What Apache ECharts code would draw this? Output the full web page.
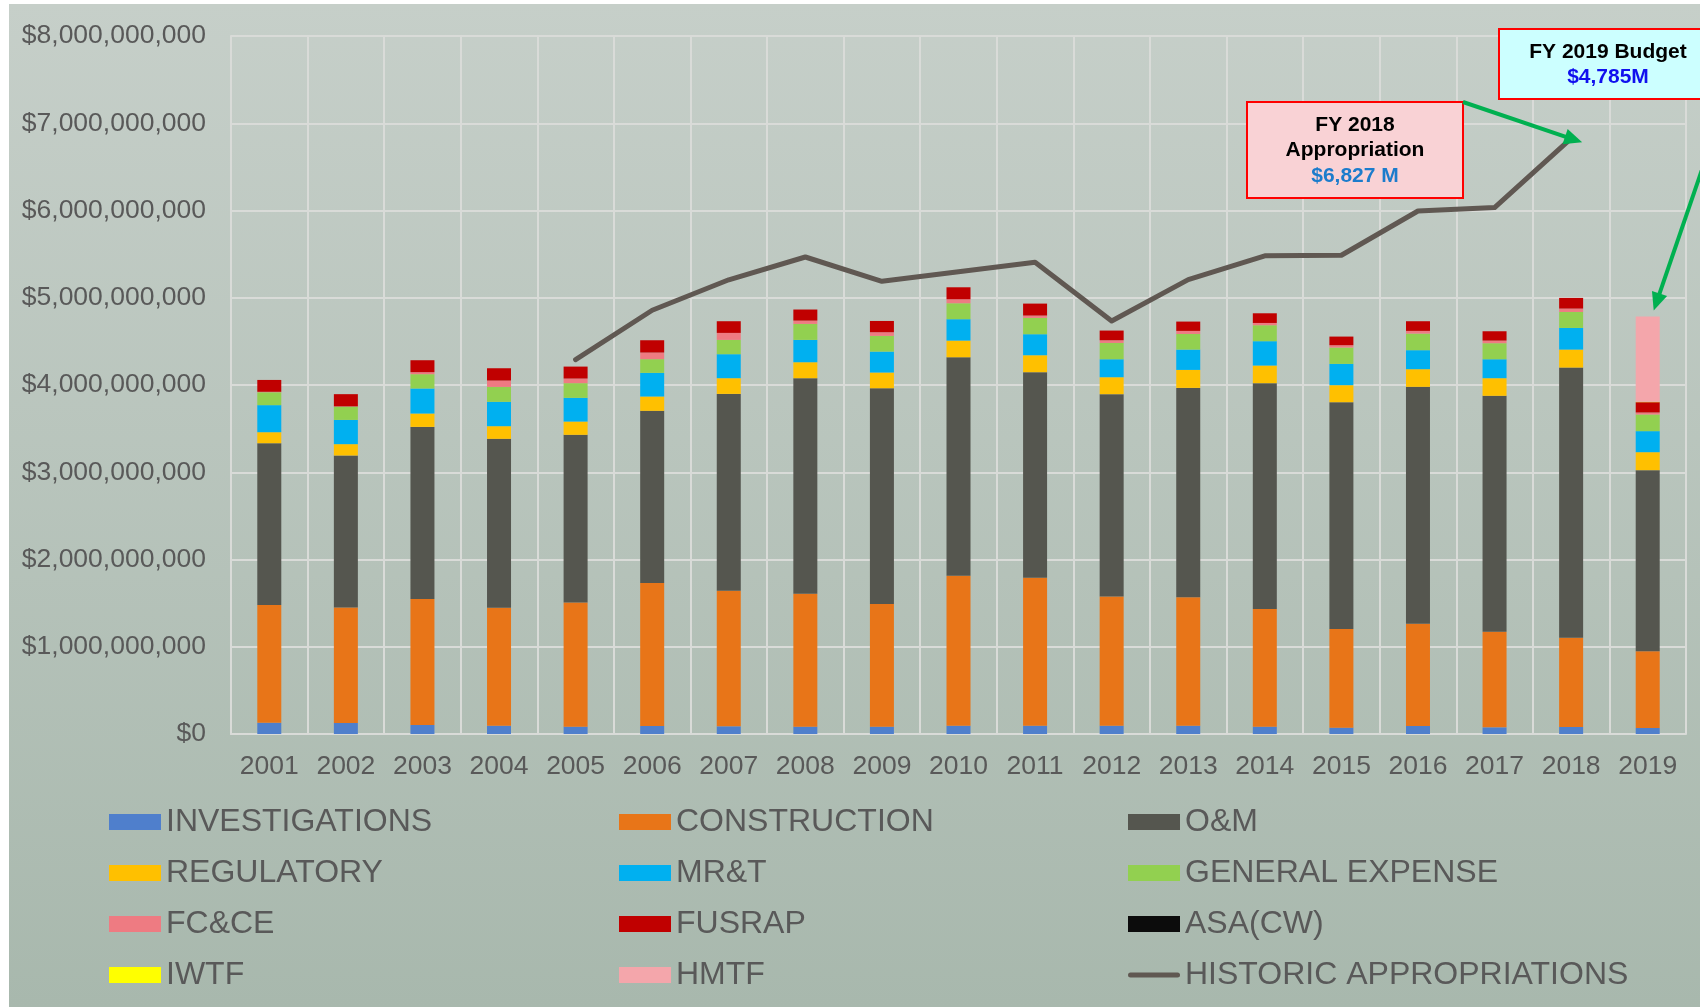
<!DOCTYPE html>
<html>
<head>
<meta charset="utf-8">
<script src="https://cdn.jsdelivr.net/npm/echarts@6/dist/echarts.min.js"></script>
<style>
  html, body { margin: 0; padding: 0; background: #fff; }
  #chart { width: 1700px; height: 1007px; }
</style>
</head>
<body>
<div id="chart"></div>
<script>
// fiscal years
const years = ['2001', '2002', '2003', '2004', '2005', '2006', '2007', '2008', '2009', '2010',
  '2011', '2012', '2013', '2014', '2015', '2016', '2017', '2018', '2019'];

// account values, $ millions
const investigations = [129, 126, 103, 95, 84, 92, 88, 84, 84, 95, 95, 95, 95, 84, 73, 92, 76, 80, 69];
const construction = [1349, 1325, 1443, 1352, 1424, 1638, 1554, 1523, 1405, 1718, 1695, 1482, 1471, 1348, 1130, 1172, 1096, 1023, 878];
const om = [1855, 1741, 1974, 1936, 1921, 1974, 2256, 2471, 2474, 2505, 2357, 2318, 2401, 2589, 2600, 2715, 2704, 3097, 2077];
const regulatory = [126, 130, 153, 145, 152, 164, 180, 183, 180, 191, 194, 194, 206, 202, 195, 202, 202, 206, 206];
const mrt = [310, 278, 287, 279, 272, 271, 275, 256, 240, 245, 241, 206, 233, 279, 244, 218, 217, 248, 241];
const generalExpense = [148, 152, 164, 171, 168, 157, 164, 183, 180, 183, 187, 187, 179, 183, 187, 190, 184, 183, 191];
const fcce = [5, 3, 23, 73, 53, 76, 80, 38, 42, 46, 27, 31, 35, 26, 27, 31, 30, 39, 23];
const fusrap = [136, 140, 137, 141, 137, 141, 134, 127, 129, 137, 137, 111, 107, 111, 99, 111, 107, 122, 118];
const asaCw = [0, 0, 0, 0, 0, 0, 0, 0, 0, 0, 0, 0, 0, 0, 0, 0, 0, 0, 0];
const iwtf = [0, 0, 0, 0, 0, 0, 0, 0, 0, 0, 0, 0, 0, 0, 0, 0, 0, 0, 5];
const hmtf = [0, 0, 0, 0, 0, 0, 0, 0, 0, 0, 0, 0, 0, 0, 0, 0, 0, 0, 977];
const historic = [null, null, null, null, 4291, 4857, 5206, 5467, 5189, 5298, 5407, 4734, 5208, 5480, 5487, 5994, 6033, 6827, null];

const yTicks = { min: 0, max: 8000, interval: 1000 };

const FONT = '"Liberation Sans", Arial, sans-serif';
const TEXT_GREY = '#595959';
const GRID_LINE = '#d9dbd8';
const LINE_COLOR = '#605852';

const stacks = [
  { name: 'INVESTIGATIONS', data: investigations, color: '#4f7fcc' },
  { name: 'CONSTRUCTION', data: construction, color: '#e87518' },
  { name: 'O&M', data: om, color: '#55564f' },
  { name: 'REGULATORY', data: regulatory, color: '#ffc000' },
  { name: 'MR&T', data: mrt, color: '#00b0f0' },
  { name: 'GENERAL EXPENSE', data: generalExpense, color: '#92d050' },
  { name: 'FC&CE', data: fcce, color: '#ee7b82' },
  { name: 'FUSRAP', data: fusrap, color: '#c00000' },
  { name: 'ASA(CW)', data: asaCw, color: '#0c0c0c' },
  { name: 'IWTF', data: iwtf, color: '#ffff00' },
  { name: 'HMTF', data: hmtf, color: '#f4a6ab' },
];

const chart = echarts.init(document.getElementById('chart'), null, { renderer: 'canvas' });

const legendBase = {
  orient: 'vertical',
  top: 800,
  itemWidth: 52,
  itemHeight: 16,
  itemGap: 17,
  symbolKeepAspect: true,
  textStyle: { fontSize: 32, lineHeight: 34, color: TEXT_GREY, fontFamily: FONT },
};
const box = (name) => ({ name: name, icon: 'rect' });
// thin rounded bar for the line series key
const lineIcon = 'path://M2.5,0 L49.5,0 A2.5,2.5 0 0 1 49.5,5 L2.5,5 A2.5,2.5 0 0 1 2.5,0 Z';

const option = {
  animation: false,
  backgroundColor: '#ffffff',
  textStyle: { fontFamily: FONT },
  grid: { left: 231, right: 14, top: 36, bottom: 273, containLabel: false },
  legend: [
    Object.assign({}, legendBase, { left: 104, data: ['INVESTIGATIONS', 'REGULATORY', 'FC&CE', 'IWTF'].map(box) }),
    Object.assign({}, legendBase, { left: 614, data: ['CONSTRUCTION', 'MR&T', 'FUSRAP', 'HMTF'].map(box) }),
    Object.assign({}, legendBase, {
      left: 1123,
      data: ['O&M', 'GENERAL EXPENSE', 'ASA(CW)'].map(box).concat([
        { name: 'HISTORIC APPROPRIATIONS', icon: lineIcon, itemStyle: { color: LINE_COLOR, borderWidth: 0 } },
      ]),
    }),
  ],
  xAxis: {
    type: 'category',
    data: years,
    boundaryGap: true,
    axisTick: { show: false, interval: 0 },
    axisLine: { lineStyle: { color: GRID_LINE, width: 2 } },
    axisLabel: { interval: 0, color: TEXT_GREY, fontSize: 26.5, fontFamily: FONT, margin: 19 },
    splitLine: { show: true, interval: 0, lineStyle: { color: GRID_LINE, width: 2 } },
  },
  yAxis: {
    type: 'value',
    min: yTicks.min,
    max: yTicks.max,
    interval: yTicks.interval,
    axisLine: { show: true, lineStyle: { color: GRID_LINE, width: 2 } },
    axisTick: { show: false },
    axisLabel: {
      color: TEXT_GREY,
      fontSize: 26.5,
      fontFamily: FONT,
      margin: 25,
      formatter: (v) => '$' + (v * 1e6).toLocaleString('en-US'),
    },
    splitLine: { lineStyle: { color: GRID_LINE, width: 2 } },
  },
  series: stacks.map((s) => ({
    name: s.name,
    type: 'bar',
    stack: 'total',
    barWidth: 24,
    data: s.data,
    itemStyle: { color: s.color },
    emphasis: { disabled: true },
  })).concat([{
    name: 'HISTORIC APPROPRIATIONS',
    type: 'line',
    data: historic,
    symbol: 'none',
    showSymbol: false,
    color: LINE_COLOR,
    lineStyle: { color: LINE_COLOR, width: 5, cap: 'round', join: 'round' },
    itemStyle: { color: LINE_COLOR },
    z: 5,
  }]),
};

chart.setOption(option);

// annotation boxes and arrows, anchored to the data where they point
function arrowHead(tip, from, len, half) {
  const dx = tip[0] - from[0];
  const dy = tip[1] - from[1];
  const d = Math.sqrt(dx * dx + dy * dy);
  const ux = dx / d, uy = dy / d;
  const bx = tip[0] - ux * len, by = tip[1] - uy * len;
  return [tip, [bx - uy * half, by + ux * half], [bx + uy * half, by - ux * half]];
}

const tip1Base = chart.convertToPixel({ xAxisIndex: 0, yAxisIndex: 0 }, ['2018', 6827]);
const tip1 = [tip1Base[0] + 11, tip1Base[1] + 4];
const start1 = [1463, 102];
const top2019 = chart.convertToPixel({ xAxisIndex: 0, yAxisIndex: 0 }, ['2019', 4785]);
const tip2 = [top2019[0] + 6, top2019[1] - 6];
const start2 = [1708, 152];
const GREEN = '#00b050';

function shaft(from, tip, len) {
  const dx = tip[0] - from[0], dy = tip[1] - from[1];
  const d = Math.sqrt(dx * dx + dy * dy);
  return [from, [tip[0] - dx / d * len * 0.7, tip[1] - dy / d * len * 0.7]];
}

chart.setOption({
  graphic: [
    {
      type: 'rect', z: -10, silent: true,
      shape: { x: 9, y: 4, width: 1691, height: 1003 },
      style: {
        fill: new echarts.graphic.LinearGradient(0, 0, 0, 1, [
          { offset: 0, color: '#c6cfc9' },
          { offset: 1, color: '#a8b8ad' },
        ]),
      },
    },
    {
      type: 'rect', z: 100,
      shape: { x: 1247, y: 102, width: 216, height: 96 },
      style: { fill: '#f9d2d5', stroke: '#ff0000', lineWidth: 2 },
    },
    {
      type: 'text', z: 101, x: 1355, y: 125,
      style: { text: 'FY 2018', font: 'bold 21px ' + FONT, fill: '#000000', align: 'center', verticalAlign: 'middle' },
    },
    {
      type: 'text', z: 101, x: 1355, y: 150.5,
      style: { text: 'Appropriation', font: 'bold 21px ' + FONT, fill: '#000000', align: 'center', verticalAlign: 'middle' },
    },
    {
      type: 'text', z: 101, x: 1355, y: 176,
      style: { text: '$6,827 M', font: 'bold 21px ' + FONT, fill: '#1c7ccc', align: 'center', verticalAlign: 'middle' },
    },
    {
      type: 'rect', z: 100,
      shape: { x: 1499, y: 29, width: 220, height: 70 },
      style: { fill: '#ccffff', stroke: '#ff0000', lineWidth: 2 },
    },
    {
      type: 'text', z: 101, x: 1608, y: 52,
      style: { text: 'FY 2019 Budget', font: 'bold 21px ' + FONT, fill: '#000000', align: 'center', verticalAlign: 'middle' },
    },
    {
      type: 'text', z: 101, x: 1608, y: 77,
      style: { text: '$4,785M', font: 'bold 21px ' + FONT, fill: '#1010ee', align: 'center', verticalAlign: 'middle' },
    },
    {
      type: 'polyline', z: 102,
      shape: { points: shaft(start1, tip1, 18) },
      style: { stroke: GREEN, lineWidth: 4, fill: null },
    },
    {
      type: 'polygon', z: 102,
      shape: { points: arrowHead(tip1, start1, 18, 8) },
      style: { fill: GREEN },
    },
    {
      type: 'polyline', z: 102,
      shape: { points: shaft(start2, tip2, 18) },
      style: { stroke: GREEN, lineWidth: 4, fill: null },
    },
    {
      type: 'polygon', z: 102,
      shape: { points: arrowHead(tip2, start2, 18, 8) },
      style: { fill: GREEN },
    },
  ],
});
</script>
</body>
</html>
